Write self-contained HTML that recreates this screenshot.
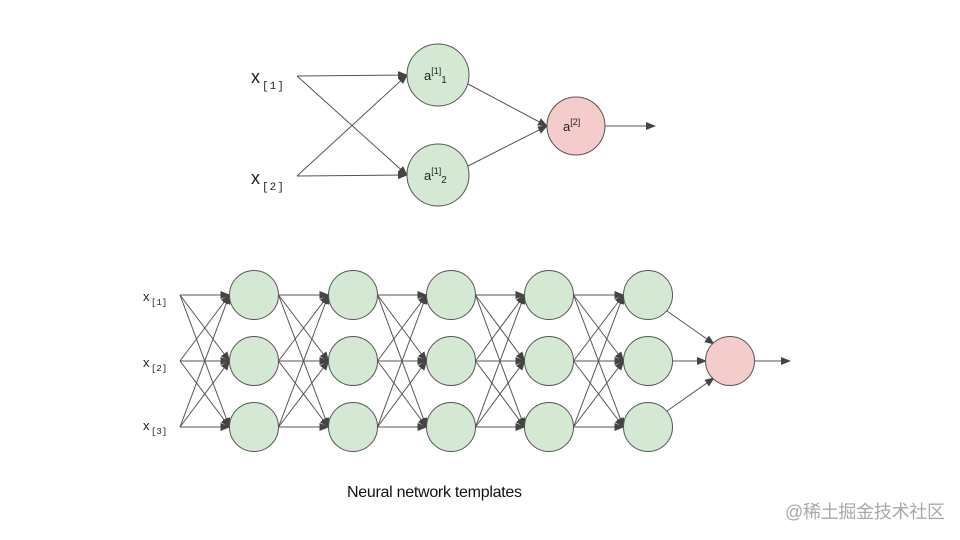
<!DOCTYPE html>
<html><head><meta charset="utf-8"><style>
html,body{margin:0;padding:0;background:#fff;width:960px;height:540px;overflow:hidden}
svg{display:block}
</style></head><body>
<svg id="s" width="960" height="540" xmlns="http://www.w3.org/2000/svg">
<defs>
<marker id="ar" markerWidth="10" markerHeight="10" refX="9" refY="5" orient="auto" markerUnits="userSpaceOnUse">
<path d="M0,1 L10,5 L0,9 Z" fill="#444"/></marker>
</defs>
<g id="lines" stroke="#555" stroke-width="1" fill="none"></g>
<g id="nodes"></g>
<g font-family="Liberation Sans, Arial, sans-serif" fill="#222">
<text x="251" y="83" font-size="18">x</text><text x="262" y="89" font-size="11" font-family="Liberation Mono, monospace" letter-spacing="1">[1]</text>
<text x="251" y="184" font-size="18">x</text><text x="262" y="190" font-size="11" font-family="Liberation Mono, monospace" letter-spacing="1">[2]</text>
<text x="424" y="80" font-size="13">a<tspan font-size="9" dy="-6">[1]</tspan><tspan font-size="10" dy="9">1</tspan></text>
<text x="424" y="180" font-size="13">a<tspan font-size="9" dy="-6">[1]</tspan><tspan font-size="10" dy="9">2</tspan></text>
<text x="563" y="131" font-size="13">a<tspan font-size="9" dy="-6">[2]</tspan></text>
<text x="143" y="301" font-size="13">x</text><text x="151" y="305" font-size="9" font-family="Liberation Mono, monospace">[1]</text>
<text x="143" y="367" font-size="13">x</text><text x="151" y="371" font-size="9" font-family="Liberation Mono, monospace">[2]</text>
<text x="143" y="430" font-size="13">x</text><text x="151" y="434" font-size="9" font-family="Liberation Mono, monospace">[3]</text>
<text x="347" y="497" font-size="16" textLength="175" fill="#111">Neural network templates</text>
<text x="785" y="518" font-size="18" textLength="160" fill="#a8a8a8" font-family="Liberation Sans, Noto Sans CJK SC, sans-serif">@稀土掘金技术社区</text>
</g>
</svg>
<script>
var NS="http://www.w3.org/2000/svg",L=document.getElementById('lines'),N=document.getElementById('nodes');
function ln(x1,y1,x2,y2){var e=document.createElementNS(NS,'line');e.setAttribute('x1',x1);e.setAttribute('y1',y1);e.setAttribute('x2',x2);e.setAttribute('y2',y2);e.setAttribute('marker-end','url(#ar)');L.appendChild(e);}
function ci(x,y,r,f){var e=document.createElementNS(NS,'circle');e.setAttribute('cx',x);e.setAttribute('cy',y);e.setAttribute('r',r);e.setAttribute('fill',f);e.setAttribute('stroke','#555');e.setAttribute('stroke-width','1');N.appendChild(e);}
var G='#d5e8d4',R='#f4cccc';
// top
[76,176].forEach(function(y){[75,175].forEach(function(cy){ln(297,y,407,cy);});});
ln(468,84,547,126);ln(468,166,547,126);
ln(605,126,655,126);
ci(438,75,31,G);ci(438,175,31,G);ci(576,126,29,R);
// bottom
var cols=[254,353,451,549,648],rows=[295,361,427],r=24.5;
rows.forEach(function(y){rows.forEach(function(y2){ln(180,y,cols[0]-r,y2);});});
for(var i=0;i<4;i++){rows.forEach(function(y){rows.forEach(function(y2){ln(cols[i]+r,y,cols[i+1]-r,y2);});});}
ln(667,311,714,344);ln(672,361,706,361);ln(667,411,714,378);
ln(755,361,790,361);
cols.forEach(function(x){rows.forEach(function(y){ci(x,y,r,G);});});
ci(730,361,24.5,R);
</script>
</body></html>
